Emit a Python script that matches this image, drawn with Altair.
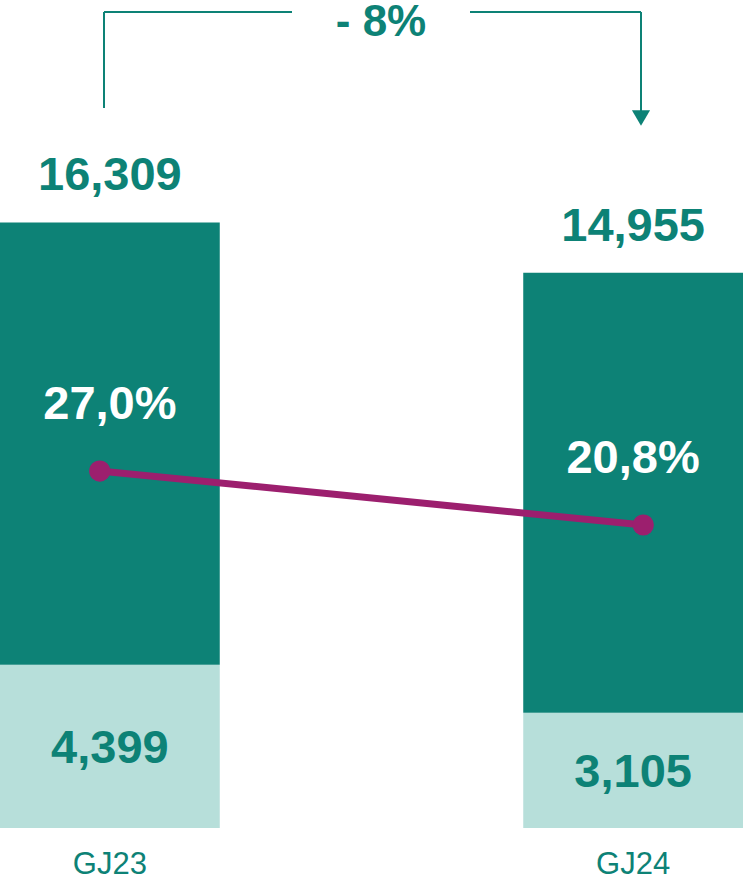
import altair as alt
import pandas as pd

# ---- data ----
years = ["GJ23", "GJ24"]
totals = [16309, 14955]
lower_part = [4399, 3105]
margins = [27.0, 20.8]

DARK = "#0D8276"
LIGHT = "#B7DFDA"
MAGENTA = "#9C1F6E"
FONT = "Liberation Sans"

df = pd.DataFrame({
    "year": years,
    "total": totals,
    "lower": lower_part,
    "margin": margins,
})
df["total_label"] = [f"{v:,}" for v in totals]
df["lower_label"] = [f"{v:,}" for v in lower_part]
df["margin_label"] = [f"{m:.1f}%".replace(".", ",") for m in margins]

change = round((totals[1] / totals[0] - 1) * 100)
change_df = pd.DataFrame({"label": [f"- {abs(change)}%" if change < 0 else f"+ {change}%"]})

band = alt.Scale(type="band", paddingInner=0.58, paddingOuter=0)
x_axis = alt.X(
    "year:N", sort=years, title=None, scale=band,
    axis=alt.Axis(
        domain=False, ticks=False, labelAngle=0, labelFont=FONT,
        labelFontSize=31, labelColor=DARK, labelPadding=21, grid=False,
    ),
)
x_band = alt.X("year:N", sort=years, title=None, scale=band, axis=None)
x_point = alt.X("year:N", sort=years, title=None,
                scale=alt.Scale(type="point", padding=0.1835), axis=None)

bar_scale = alt.Scale(domain=[0, 22300], nice=False, zero=True)
pct_scale = alt.Scale(domain=[-14, 81.1], nice=False, zero=False)

base = alt.Chart(df)

bars_low = base.mark_bar(color=LIGHT).encode(
    x=x_axis,
    y=alt.Y("lower:Q", scale=bar_scale, axis=None),
)
bars_up = base.mark_bar(color=DARK).encode(
    x=x_band,
    y=alt.Y("total:Q", scale=bar_scale, axis=None),
    y2="lower:Q",
)
total_text = base.mark_text(
    font=FONT, fontSize=47, fontWeight="bold", color=DARK,
    baseline="alphabetic", dy=-32,
).encode(
    x=x_band,
    y=alt.Y("total:Q", scale=bar_scale, axis=None),
    text="total_label:N",
)
lower_text = base.transform_calculate(mid="datum.lower / 2").mark_text(
    font=FONT, fontSize=47, fontWeight="bold", color=DARK,
    baseline="middle", dy=3,
).encode(
    x=x_band,
    y=alt.Y("mid:Q", scale=bar_scale, axis=None),
    text="lower_label:N",
)
line = base.mark_line(color=MAGENTA, strokeWidth=7).encode(
    x=x_point,
    y=alt.Y("margin:Q", scale=pct_scale, axis=None),
)
points = base.mark_circle(color=MAGENTA, size=450, opacity=1).encode(
    x=x_point,
    y=alt.Y("margin:Q", scale=pct_scale, axis=None),
)
pct_text = base.mark_text(
    font=FONT, fontSize=47, fontWeight="bold", color="white",
    baseline="alphabetic", dy=-52,
).encode(
    x=x_band,
    y=alt.Y("margin:Q", scale=pct_scale, axis=None),
    text="margin_label:N",
)

# ---- change bracket annotation ----
ann = alt.Chart(change_df)
seg_left_v = ann.mark_rule(color=DARK, strokeWidth=2).encode(
    x=alt.value(104), y=alt.value(12), y2=alt.value(108))
seg_left_h = ann.mark_rule(color=DARK, strokeWidth=2).encode(
    x=alt.value(104), x2=alt.value(292), y=alt.value(12))
seg_right_h = ann.mark_rule(color=DARK, strokeWidth=2).encode(
    x=alt.value(470), x2=alt.value(641), y=alt.value(12))
seg_right_v = ann.mark_rule(color=DARK, strokeWidth=2).encode(
    x=alt.value(641), y=alt.value(12), y2=alt.value(112))
arrow = ann.mark_point(shape="triangle-down", filled=True, color=DARK,
                       size=330, opacity=1).encode(
    x=alt.value(641), y=alt.value(118))
change_text = ann.mark_text(
    font=FONT, fontSize=44, fontWeight="bold", color=DARK, baseline="alphabetic",
).encode(x=alt.value(381), y=alt.value(36), text="label:N")

chart = alt.layer(
    bars_low, bars_up, total_text, lower_text, line, points, pct_text,
    seg_left_v, seg_left_h, seg_right_h, seg_right_v, arrow, change_text,
).resolve_scale(y="independent", x="independent").properties(
    width=743, height=828,
    padding={"left": 0, "right": 0, "top": 0, "bottom": 51},
    autosize=alt.AutoSizeParams(type="none"),
    background="white",
).configure_view(stroke=None)

chart.save("out.html", embed_options={"renderer": "svg", "actions": False})
